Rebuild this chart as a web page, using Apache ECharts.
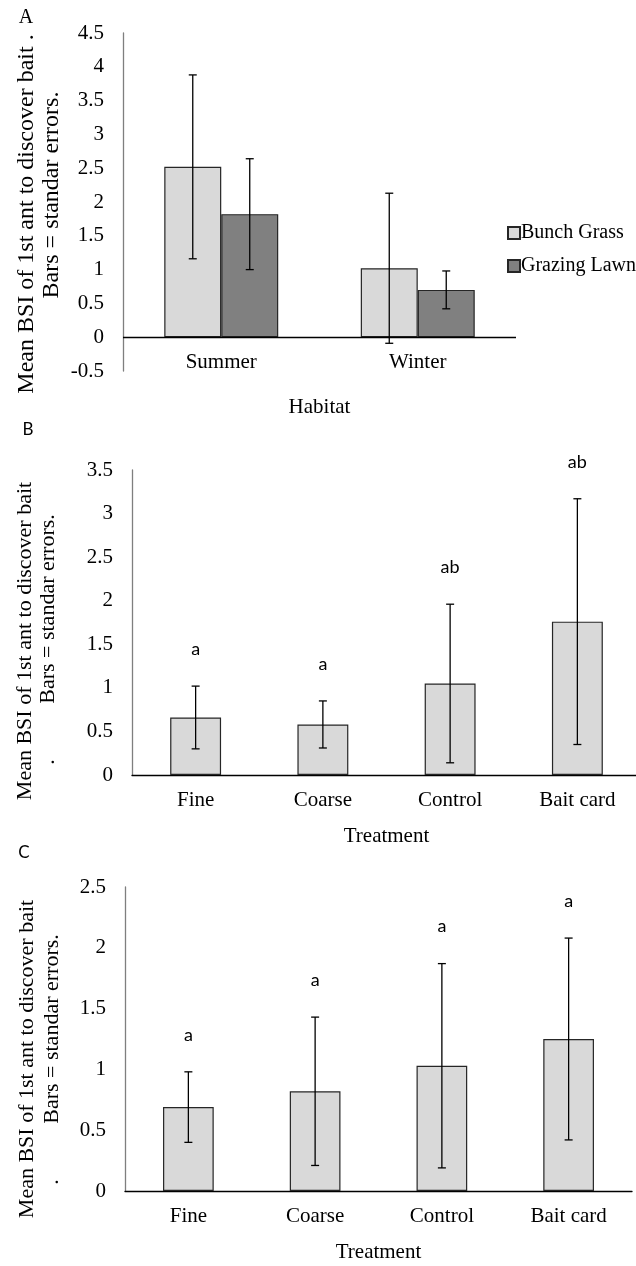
<!DOCTYPE html>
<html>
<head>
<meta charset="utf-8">
<script src="https://cdn.jsdelivr.net/npm/echarts@6/dist/echarts.min.js"></script>
<style>
  html, body { margin: 0; padding: 0; background: #fff; }
  #chart { width: 636px; height: 1266px; }
</style>
</head>
<body>
<div id="chart"></div>
<script>
    // panel A - habitat
    var habitats = ['Summer', 'Winter'];
    var bunchMean = [2.52, 1.02];
    var bunchSE = [1.36, 1.11];
    var lawnMean = [1.82, 0.70];
    var lawnSE = [0.82, 0.28];

    // panel B / C - treatment
    var treatments = ['Fine', 'Coarse', 'Control', 'Bait card'];
    var meanB = [0.66, 0.58, 1.05, 1.76];
    var seB = [0.36, 0.27, 0.91, 1.41];
    var lettersB = ['a', 'a', 'ab', 'ab'];
    var meanC = [0.69, 0.82, 1.03, 1.25];
    var seC = [0.29, 0.61, 0.84, 0.83];
    var lettersC = ['a', 'a', 'a', 'a'];

    var serif = 'Liberation Serif';
    var sans = 'Lato';

    var chart = echarts.init(document.getElementById('chart'), null, { renderer: 'canvas' });

    // error bars drawn on top of the bars, nSeries bars per category
    function errorBars(nSeries, gapFrac, letters) {
        return function(params, api) {
            var cat = api.value(0), mean = api.value(1), se = api.value(2), k = api.value(3);
            var c = api.coord([cat, mean]);
            var band = api.size([1, 0])[0];
            var groupW = band * (1 - gapFrac);
            var barW = groupW / nSeries;
            var x = c[0] - groupW / 2 + barW * (k + 0.5);
            var hi = api.coord([cat, mean + se])[1];
            var lo = api.coord([cat, mean - se])[1];
            var st = { stroke: '#000', lineWidth: 1.3 };
            var kids = [
                { type: 'line', shape: { x1: x, y1: hi, x2: x, y2: lo }, style: st },
                { type: 'line', shape: { x1: x - 4, y1: hi, x2: x + 4, y2: hi }, style: st },
                { type: 'line', shape: { x1: x - 4, y1: lo, x2: x + 4, y2: lo }, style: st }
            ];
            if (letters) {
                kids.push({
                    type: 'text',
                    style: {
                        x: x, y: hi - 37, text: letters[params.dataIndex],
                        fill: '#000', font: '18px ' + sans,
                        align: 'center', verticalAlign: 'middle'
                    }
                });
            }
            return { type: 'group', children: kids };
        };
    }

    function errData(means, ses, k) {
        return means.map(function(m, i) { return [i, m, ses[i], k]; });
    }

    function xAxisOf(idx, cats, name, labelMargin, nameGap, offset, showLine) {
        return {
            type: 'category', gridIndex: idx, data: cats, offset: offset,
            axisLine: { show: showLine, onZero: false, lineStyle: { color: '#000', width: 1.3 } },
            axisTick: { show: false },
            axisLabel: { fontSize: 21, color: '#000', fontFamily: serif, margin: labelMargin },
            name: name, nameLocation: 'middle', nameGap: nameGap,
            nameTextStyle: { fontSize: 21, color: '#000', fontFamily: serif }
        };
    }

    function yAxisOf(idx, min, max) {
        return {
            type: 'value', gridIndex: idx, min: min, max: max, interval: 0.5,
            splitLine: { show: false },
            axisLine: { show: true, lineStyle: { color: '#7f7f7f', width: 1.3 } },
            axisTick: { show: false },
            axisLabel: { fontSize: 21, color: '#000', fontFamily: serif, margin: 19 }
        };
    }

    function title(text, x, y, size) {
        return {
            type: 'text', x: x, y: y, rotation: Math.PI / 2,
            style: { text: text, font: size + 'px ' + serif, fill: '#000', align: 'center', verticalAlign: 'middle' }
        };
    }

    chart.setOption({
        backgroundColor: '#fff',
        animation: false,
        grid: [
            { left: 123, top: 33, width: 393, height: 338, outerBoundsMode: 'none' },
            { left: 132, top: 470, width: 509, height: 305, outerBoundsMode: 'none' },
            { left: 125, top: 887, width: 507, height: 304, outerBoundsMode: 'none' }
        ],
        legend: {
            orient: 'vertical', left: 502, top: 218, itemGap: 13,
            itemWidth: 12, itemHeight: 12, icon: 'rect',
            data: ['Bunch Grass', 'Grazing Lawn'],
            textStyle: { fontSize: 20, color: '#000', fontFamily: serif, padding: [0, 0, 0, -4] }
        },
        xAxis: [
            xAxisOf(0, habitats, 'Habitat', 0, 45, -19, false),
            xAxisOf(1, treatments, 'Treatment', 15, 51, 0, true),
            xAxisOf(2, treatments, 'Treatment', 15, 51, 0, true)
        ],
        yAxis: [
            yAxisOf(0, -0.5, 4.5),
            yAxisOf(1, 0, 3.5),
            yAxisOf(2, 0, 2.5)
        ],
        series: [{
            name: 'Bunch Grass', type: 'bar', xAxisIndex: 0, yAxisIndex: 0,
            data: bunchMean, barCategoryGap: '42%', barGap: '0%',
            itemStyle: { color: '#d9d9d9', borderColor: '#262626', borderWidth: 1.2 },
            markLine: {
                silent: true, symbol: 'none', label: { show: false },
                lineStyle: { color: '#000', width: 1.3, type: 'solid' },
                data: [{ yAxis: 0 }]
            }
        }, {
            name: 'Grazing Lawn', type: 'bar', xAxisIndex: 0, yAxisIndex: 0,
            data: lawnMean, barCategoryGap: '42%', barGap: '0%',
            itemStyle: { color: '#808080', borderColor: '#262626', borderWidth: 1.2 }
        }, {
            type: 'custom', xAxisIndex: 0, yAxisIndex: 0, z: 5,
            renderItem: errorBars(2, 0.42), encode: { x: 0, y: 1 },
            data: errData(bunchMean, bunchSE, 0).concat(errData(lawnMean, lawnSE, 1))
        }, {
            type: 'bar', xAxisIndex: 1, yAxisIndex: 1,
            data: meanB, barCategoryGap: '60%',
            itemStyle: { color: '#d9d9d9', borderColor: '#262626', borderWidth: 1.2 }
        }, {
            type: 'custom', xAxisIndex: 1, yAxisIndex: 1, z: 5,
            renderItem: errorBars(1, 0.6, lettersB), encode: { x: 0, y: 1 },
            data: errData(meanB, seB, 0)
        }, {
            type: 'bar', xAxisIndex: 2, yAxisIndex: 2,
            data: meanC, barCategoryGap: '60%',
            itemStyle: { color: '#d9d9d9', borderColor: '#262626', borderWidth: 1.2 }
        }, {
            type: 'custom', xAxisIndex: 2, yAxisIndex: 2, z: 5,
            renderItem: errorBars(1, 0.6, lettersC), encode: { x: 0, y: 1 },
            data: errData(meanC, seC, 0)
        }],
        graphic: [
            { type: 'text', x: 26, y: 18, style: { text: 'A', font: '20px ' + serif, fill: '#000', align: 'center', verticalAlign: 'middle' } },
            { type: 'text', x: 28, y: 430, style: { text: 'B', font: '17px ' + sans, fill: '#000', align: 'center', verticalAlign: 'middle' } },
            { type: 'text', x: 24, y: 853, style: { text: 'C', font: '17px ' + sans, fill: '#000', align: 'center', verticalAlign: 'middle' } },
            title('Mean BSI of 1st ant to discover bait .', 27, 214, 24),
            title('Bars = standar errors.', 52, 195, 24),
            title('Mean BSI of 1st ant to discover bait', 25, 641, 22),
            title('Bars = standar errors.', 48, 609, 22),
            title('.', 48, 762, 22),
            title('Mean BSI of 1st ant to discover bait', 27, 1059, 22),
            title('Bars = standar errors.', 52, 1029, 22),
            title('.', 52, 1182, 22)
        ]
    });
</script>
</body>
</html>
